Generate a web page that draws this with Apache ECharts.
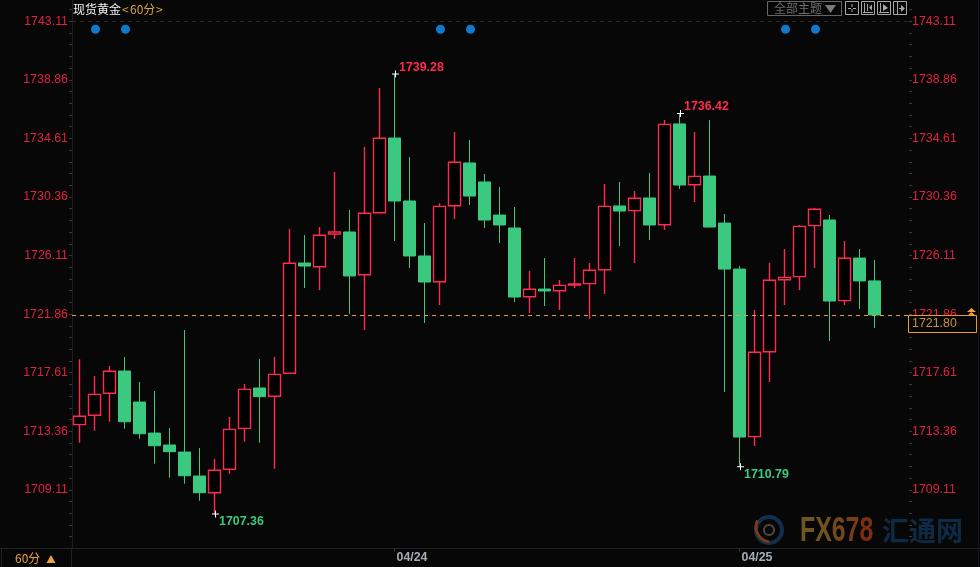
<!DOCTYPE html>
<html>
<head>
<meta charset="utf-8">
<title>现货黄金</title>
<script src="https://cdn.jsdelivr.net/npm/echarts@6/dist/echarts.min.js"></script>
<style>
html,body{margin:0;padding:0;background:#070708;}
#main{width:980px;height:567px;}
</style>
</head>
<body>
<div id="main"></div>
<script>
// 红=阳线(空心) 绿=阴线(实心)
var opens = [1713.84,1714.52,1716.12,1717.73,1715.48,1713.23,1712.36,1711.85,1710.11,1708.90,1710.60,1713.57,1716.50,1715.90,1717.57,1725.57,1725.30,1727.68,1727.82,1724.72,1729.22,1734.64,1730.07,1726.08,1724.21,1729.73,1732.83,1731.45,1729.05,1728.11,1723.12,1723.68,1723.56,1723.97,1724.07,1725.08,1729.71,1729.37,1730.29,1728.35,1735.66,1731.25,1731.88,1728.47,1725.13,1712.97,1719.13,1724.36,1724.58,1728.28,1728.69,1722.84,1725.93,1724.27];
var closes = [1714.45,1716.04,1717.71,1714.05,1713.18,1712.31,1711.88,1710.13,1708.90,1710.53,1713.50,1716.40,1715.87,1717.49,1725.55,1725.35,1727.58,1727.82,1724.63,1729.18,1734.62,1730.07,1726.08,1724.19,1729.68,1732.88,1730.43,1728.69,1728.33,1723.10,1723.66,1723.54,1723.95,1724.05,1725.04,1729.68,1729.34,1730.27,1728.33,1735.63,1731.23,1731.86,1728.18,1725.13,1712.94,1719.09,1724.32,1724.53,1728.23,1729.47,1722.81,1725.91,1724.27,1721.80];
var lows = [1712.53,1713.40,1714.05,1713.55,1712.82,1711.01,1709.99,1709.55,1708.32,1707.36,1710.28,1712.60,1712.53,1710.64,1717.52,1723.76,1723.61,1727.31,1721.87,1720.71,1729.20,1727.17,1725.21,1721.22,1722.52,1728.77,1729.78,1728.11,1727.02,1722.74,1721.94,1722.45,1722.16,1723.76,1721.50,1723.32,1726.80,1725.57,1727.24,1727.97,1730.94,1730.00,1728.18,1716.21,1710.79,1712.29,1716.93,1722.52,1723.61,1725.21,1719.91,1722.52,1722.23,1720.85];
var highs = [1718.58,1717.37,1718.10,1718.75,1716.93,1716.28,1713.60,1720.71,1712.14,1711.35,1714.39,1716.79,1718.60,1718.75,1728.04,1727.60,1728.18,1732.17,1729.42,1733.99,1738.27,1739.28,1733.26,1728.47,1729.90,1735.08,1734.50,1732.03,1731.09,1729.63,1724.99,1725.93,1724.34,1725.93,1725.57,1731.30,1731.45,1730.79,1732.10,1735.95,1736.42,1735.08,1735.95,1729.13,1725.35,1722.16,1725.57,1726.59,1728.33,1729.56,1729.05,1727.17,1726.59,1725.79];

var dateLabels = {21: '04/24', 44: '04/25'};
var tickLabels = [1709.11,1713.36,1717.61,1721.86,1726.11,1730.36,1734.61,1738.86,1743.11];
var hiMarks = [[21, 1739.28], [40, 1736.42]];
var loMarks = [[9, 1707.36], [44, 1710.79]];
var dotIndex = [1, 3, 24, 26, 47, 49];
var dotValue = 1742.53;
var lastPrice = 1721.80;
var topPrice = 1743.11;

var categories = [];
var candleData = [];
for (var i = 0; i < opens.length; i++) {
    // 阳线边框略粗
    candleData.push({
        value: [opens[i], closes[i], lows[i], highs[i]],
        itemStyle: {borderWidth: closes[i] >= opens[i] ? 1.4 : 1}
    });
}
for (var j = 0; j < 56; j++) {
    categories.push(dateLabels[j] || String(j));
}
var tickAll = [];
tickLabels.forEach(function (v) {
    for (var k = 0; k < 5; k++) {
        var t = v + k * 0.85;
        if (t < 1744.6) tickAll.push(t);
    }
});
tickAll = tickAll.concat([1708.26, 1707.41, 1706.56, 1705.71]);

var RED = '#ff2a4d', GREEN = '#3ac97f', AXIS_RED = '#e0223f', LINE = '#232325';
var NUM_FONT = '"Liberation Sans", Arial, sans-serif';
var CJK_FONT = '"Noto Sans CJK SC", sans-serif';

function yAxisOf(pos) {
    return {
        type: 'value',
        position: pos,
        offset: pos === 'right' ? -3 : 0,
        min: 1704.888,
        max: 1744.656,
        scale: true,
        splitLine: {show: false},
        axisLine: {show: pos === 'left', lineStyle: {color: '#1e1e20'}},
        axisTick: {show: true, length: 3, customValues: tickAll, lineStyle: {color: '#3a3a3c'}},
        axisLabel: {
            customValues: tickLabels,
            margin: pos === 'left' ? 4 : 3,
            color: AXIS_RED,
            fontSize: 12.4,
            fontFamily: NUM_FONT,
            formatter: function (v) { return v.toFixed(2); }
        }
    };
}

function extremeSeries(data, color, off) {
    return {
        type: 'scatter',
        data: data,
        symbol: 'path://M0 3h7v1H0zM3 0h1v7H3z',
        symbolSize: 7,
        symbolOffset: [1, 0],
        itemStyle: {color: '#fff', opacity: 1},
        z: 5,
        label: {
            show: true,
            position: 'right',
            distance: 0,
            offset: off,
            color: color,
            fontSize: 12.4,
            fontWeight: 'bold',
            fontFamily: NUM_FONT,
            formatter: function (p) { return p.value[1].toFixed(2); }
        }
    };
}

function line(x1, y1, x2, y2, color) {
    return {type: 'line', silent: true, z: 1, shape: {x1: x1, y1: y1, x2: x2, y2: y2}, style: {stroke: color, lineWidth: 1}};
}
function box(x, y, w, h, stroke, fill, z) {
    return {type: 'rect', silent: true, z: z || 20, shape: {x: x, y: y, width: w, height: h}, style: {stroke: stroke, fill: fill || 'transparent', lineWidth: 1}};
}
function label(x, y, text, color, size, font, weight) {
    return {type: 'text', silent: true, z: 21, x: x, y: y, style: {text: text, fill: color, fontSize: size, fontFamily: font, fontWeight: weight || 'normal', verticalAlign: 'middle'}};
}
function tri(points, color) {
    return {type: 'polygon', silent: true, z: 21, shape: {points: points}, style: {fill: color}};
}

var BTN = '#a8a8a8';
var graphics = [
    // 外框线
    line(0, 548.5, 980, 548.5, LINE),
    line(71.5, 548, 71.5, 567, LINE),
    line(1.5, 548, 1.5, 567, LINE),
    line(978.5, 0, 978.5, 567, '#161618'),
    // 标题
    label(73, 9, '现货黄金', '#f2f2f2', 12, CJK_FONT),
    label(122, 9, '<', '#dba63c', 12, CJK_FONT),
    label(130, 9, '60分', '#dba63c', 12, CJK_FONT),
    label(156, 9, '>', '#dba63c', 12, CJK_FONT),
    // 右上按钮
    box(767.5, 1.5, 74, 14, '#666'),
    label(774, 8.5, '全部主题', '#6e6e6e', 12, CJK_FONT),
    tri([[825, 5], [836, 5], [830.5, 13]], '#7a7a7a'),
    box(845.5, 1.5, 13, 13, BTN),
    line(852, 4, 852, 7, BTN), line(852, 9, 852, 12, BTN), line(848, 8.5, 851, 8.5, BTN), line(853, 8.5, 856, 8.5, BTN),
    box(861.5, 1.5, 13, 13, BTN),
    line(864.5, 3, 864.5, 13, BTN), line(863, 12.5, 873, 12.5, BTN), line(867.5, 4, 867.5, 11, BTN), tri([[869, 7.5], [872, 4.5], [872, 10.5]], BTN),
    box(877.5, 1.5, 13, 13, BTN),
    line(880.5, 3, 880.5, 13, BTN), line(879, 12.5, 889, 12.5, BTN), tri([[883, 4], [888, 8], [883, 11]], BTN),
    box(893.5, 1.5, 13, 13, BTN),
    line(897.5, 2, 897.5, 14, BTN), line(899, 8.5, 902, 8.5, BTN), tri([[901, 5], [905, 8.5], [901, 12]], BTN),
    // 最新价
    box(908.5, 315.5, 68, 17, '#f09a2e', '#070708', 30),
    {type: 'text', silent: true, z: 31, x: 912, y: 324, style: {text: lastPrice.toFixed(2), fill: '#cf8f3c', fontSize: 12.4, fontFamily: NUM_FONT, verticalAlign: 'middle'}},
    tri([[971.5, 308], [967, 312], [976, 312]], '#f0a040'),
    tri([[971.5, 312], [967, 316], [976, 316]], '#f0a040'),
    // 周期
    label(15, 558, '60分', '#e8a33c', 12, CJK_FONT),
    tri([[51, 555], [46.5, 563], [55.5, 563]], '#e8a33c'),
    // 水印
    {type: 'circle', silent: true, z: 2, shape: {cx: 769, cy: 530, r: 13}, style: {stroke: '#12304e', lineWidth: 4, fill: 'transparent'}},
    {type: 'arc', silent: true, z: 3, shape: {cx: 771, cy: 527, r: 15, startAngle: 1.7, endAngle: 3.6}, style: {stroke: '#7a3a14', lineWidth: 3, fill: 'transparent'}},
    {type: 'circle', silent: true, z: 3, shape: {cx: 769, cy: 530, r: 5}, style: {stroke: '#4d4a40', lineWidth: 2, fill: 'transparent'}},
    {type: 'text', silent: true, z: 2, x: 800, y: 531, scaleX: 0.71, style: {
        text: '{a|F}{b|X}{c|6}{d|7}{e|8}',
        verticalAlign: 'middle',
        rich: {
            a: {fill: '#6d5620', fontSize: 35, fontWeight: 'bold', fontFamily: NUM_FONT},
            b: {fill: '#6f5220', fontSize: 35, fontWeight: 'bold', fontFamily: NUM_FONT},
            c: {fill: '#74481a', fontSize: 35, fontWeight: 'bold', fontFamily: NUM_FONT},
            d: {fill: '#783c16', fontSize: 35, fontWeight: 'bold', fontFamily: NUM_FONT},
            e: {fill: '#7e2e10', fontSize: 35, fontWeight: 'bold', fontFamily: NUM_FONT}
        }
    }},
    {type: 'text', silent: true, z: 2, x: 882, y: 531, style: {text: '汇通网', fontSize: 27, fontWeight: 'bold', fontFamily: CJK_FONT, verticalAlign: 'middle', fill: '#0f2a45'}}
];

var myChart = echarts.init(document.getElementById('main'));
myChart.setOption({
    animation: false,
    backgroundColor: '#070708',
    graphic: graphics,
    grid: {left: 72, top: 0, width: 840, height: 548},
    xAxis: {
        type: 'category',
        data: categories,
        boundaryGap: true,
        axisLine: {show: false},
        splitLine: {show: false},
        axisTick: {
            show: true,
            alignWithLabel: true,
            length: 3,
            lineStyle: {color: '#3a3a3c'},
            interval: function (idx) { return dateLabels[idx] !== undefined; }
        },
        axisLabel: {
            interval: function (idx) { return dateLabels[idx] !== undefined; },
            align: 'left',
            margin: 4,
            padding: [0, 0, 0, 2],
            color: '#a3adb8',
            fontSize: 12.4,
            fontWeight: 'bold',
            fontFamily: NUM_FONT,
            hideOverlap: false
        }
    },
    yAxis: [yAxisOf('left'), yAxisOf('right')],
    series: [
        {
            type: 'candlestick',
            data: candleData,
            barWidth: 12,
            itemStyle: {
                color: '#000',
                color0: GREEN,
                borderColor: RED,
                borderColor0: GREEN,
                borderColorDoji: RED,
                borderWidth: 1
            },
            markLine: {
                silent: true,
                symbol: 'none',
                label: {show: false},
                data: [
                    {yAxis: lastPrice, lineStyle: {color: '#e0a050', type: [4, 4], width: 1}},
                    {yAxis: topPrice, lineStyle: {color: '#2a2a2c', type: [4, 4], width: 1}}
                ]
            }
        },
        {
            type: 'scatter',
            data: dotIndex.map(function (idx) { return [idx, dotValue]; }),
            symbol: 'circle',
            symbolSize: 9,
            symbolOffset: [1, 0],
            itemStyle: {color: '#0f7acb', opacity: 1}
        },
        extremeSeries(hiMarks, RED, [0, -6.5]),
        extremeSeries(loMarks, GREEN, [0, 8])
    ]
});
</script>
</body>
</html>
